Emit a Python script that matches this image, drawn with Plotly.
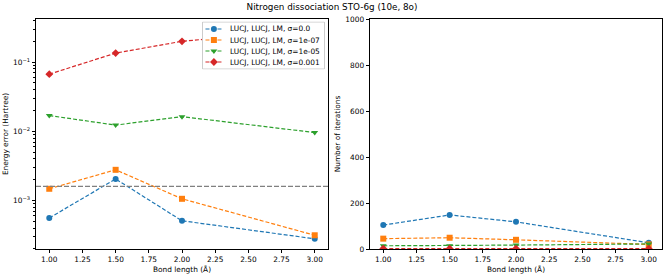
import plotly.graph_objects as go

bond_lengths = [1.0, 1.5, 2.0, 3.0]
labels = ["LUCJ, LUCJ, LM, σ=0.0", "LUCJ, LUCJ, LM, σ=1e-07",
          "LUCJ, LUCJ, LM, σ=1e-05", "LUCJ, LUCJ, LM, σ=0.001"]
err_s0 = [5.6e-4, 2.05e-3, 5.1e-4, 2.8e-4]
err_s1 = [1.48e-3, 2.78e-3, 1.06e-3, 3.15e-4]
err_s2 = [0.0169, 0.0123, 0.0163, 0.0096]
err_s3 = [0.067, 0.135, 0.20, 0.30]
iter_s0 = [104, 148, 118, 27]
iter_s1 = [45, 49, 40, 20]
iter_s2 = [14, 14, 17, 22]
iter_s3 = [2, 2, 2, 2]
chem_acc = 1.6e-3

colors = ["#1f77b4", "#ff7f0e", "#2ca02c", "#d62728"]
symbols = ["circle", "square", "triangle-down", "diamond"]
errs = [err_s0, err_s1, err_s2, err_s3]
iters = [iter_s0, iter_s1, iter_s2, iter_s3]
DASH = "4px,2px"
FS = 7.4

fig = go.Figure()
for i in range(4):
    fig.add_trace(go.Scatter(x=bond_lengths, y=errs[i], mode="lines+markers", name=labels[i],
                             line=dict(color=colors[i], dash=DASH, width=1.2),
                             marker=dict(symbol=symbols[i], size=6, color=colors[i]),
                             xaxis="x", yaxis="y", showlegend=False))
for i in range(4):
    fig.add_trace(go.Scatter(x=bond_lengths, y=iters[i], mode="lines+markers", showlegend=False,
                             line=dict(color=colors[i], dash=DASH, width=1.2),
                             marker=dict(symbol=symbols[i], size=6, color=colors[i]),
                             xaxis="x2", yaxis="y2"))

fig.add_shape(type="line", xref="x domain", yref="y", x0=0, x1=1, y0=chem_acc, y1=chem_acc,
              line=dict(color="gray", dash="5px,2px", width=1.2))

# custom compact legend (box in pixel-like coordinates of a helper axis)
BW, BH = 123, 47
fig.add_trace(go.Scatter(x=[0, BW, BW, 0, 0], y=[0, 0, BH, BH, 0], mode="lines", fill="toself",
                         fillcolor="rgba(255,255,255,0.8)", line=dict(color="#cccccc", width=1),
                         xaxis="x3", yaxis="y3", showlegend=False, hoverinfo="skip"))
row_y = [7, 18, 29, 40]
for i in range(4):
    fig.add_trace(go.Scatter(x=[3, 20], y=[row_y[i], row_y[i]], mode="lines",
                             line=dict(color=colors[i], dash=DASH, width=1.2),
                             xaxis="x3", yaxis="y3", showlegend=False, hoverinfo="skip"))
    fig.add_trace(go.Scatter(x=[11.5], y=[row_y[i]], mode="markers",
                             marker=dict(symbol=symbols[i], size=6, color=colors[i]),
                             xaxis="x3", yaxis="y3", showlegend=False, hoverinfo="skip"))
    fig.add_annotation(x=25.5, y=row_y[i], xref="x3", yref="y3", text=labels[i], showarrow=False,
                       xanchor="left", yanchor="middle", font=dict(size=FS, color="black"))

minor_vals = [m * 10.0 ** e for e in range(-4, 0) for m in range(2, 10)]

W, H = 664, 277
ydom = [1 - 249 / H, 1 - 19 / H]
axis_common = dict(showline=True, linecolor="black", linewidth=0.8, mirror=True, ticks="outside",
                   ticklen=3.5, tickcolor="black", tickwidth=0.8, showgrid=False, zeroline=False,
                   tickfont=dict(size=FS, color="black"), automargin=False)
xt = [1.0, 1.25, 1.5, 1.75, 2.0, 2.25, 2.5, 2.75, 3.0]
fig.update_layout(
    width=W, height=H, margin=dict(l=0, r=0, t=0, b=0),
    plot_bgcolor="white", paper_bgcolor="white",
    font=dict(family="DejaVu Sans", size=FS, color="black"),
    title=dict(text="Nitrogen dissociation STO-6g (10e, 8o)", x=0.5, xanchor="center",
               y=1 - 7 / H, yanchor="middle", font=dict(size=8.8)),
    xaxis=dict(domain=[36 / W, 328 / W], range=[0.9, 3.1], tickvals=xt,
               ticktext=[f"{v:.2f}" for v in xt],
               title=dict(text="Bond length (Å)", font=dict(size=FS), standoff=3), **axis_common),
    yaxis=dict(domain=ydom, type="log", range=[-3.70, -0.377],
               tickvals=[1e-3, 1e-2, 1e-1], ticktext=["10<sup>−3</sup>", "10<sup>−2</sup>", "10<sup>−1</sup>"],
               minor=dict(tickmode="array", tickvals=minor_vals, ticks="outside", ticklen=2,
                          tickwidth=0.6, tickcolor="black", showgrid=False),
               title=dict(text="Energy error (Hartree)", font=dict(size=FS), standoff=3), **axis_common),
    xaxis2=dict(domain=[370 / W, 662 / W], range=[0.9, 3.1], tickvals=xt,
                ticktext=[f"{v:.2f}" for v in xt], anchor="y2",
                title=dict(text="Bond length (Å)", font=dict(size=FS), standoff=3), **axis_common),
    yaxis2=dict(domain=ydom, range=[0, 1000], tickvals=[0, 200, 400, 600, 800, 1000], anchor="x2",
                title=dict(text="Number of iterations", font=dict(size=FS), standoff=3), **axis_common),
    xaxis3=dict(domain=[202 / W, 325 / W], range=[-0.5, BW + 0.5], visible=False, fixedrange=True, anchor="y3"),
    yaxis3=dict(domain=[1 - 69.5 / H, 1 - 21.5 / H], range=[BH + 0.5, -0.5], visible=False, fixedrange=True, anchor="x3"),
    showlegend=False,
)
fig.write_html("out.html", config={"displayModeBar": False},
               post_script="document.body.style.margin='0px';")
